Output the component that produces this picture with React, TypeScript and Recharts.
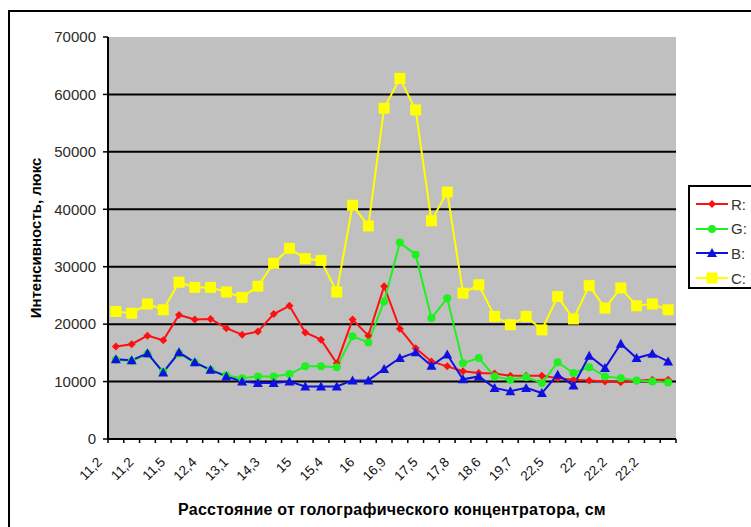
import React from "react";
import {
  CartesianGrid,
  Line,
  LineChart,
  XAxis,
  YAxis,
} from "recharts";

// distance labels, only every other one is shown on the axis
const distances = [
  "11,2", "11,2", "11,2", "11,3", "11,5", "11,8", "12,4", "12,7", "13,1", "13,6",
  "14,3", "14,6", "15", "15,2", "15,4", "15,7", "16", "16,4", "16,9", "17,2",
  "17,5", "17,6", "17,8", "18,2", "18,6", "19,1", "19,7", "21", "22,5", "22,2",
  "22", "22,1", "22,2", "22,2", "22,2", "22,2",
];

const rValues = [
  16100, 16500, 18000, 17200, 21600, 20800, 20900, 19300, 18150, 18700,
  21750, 23200, 18550, 17300, 13200, 20800, 18000, 26600, 19200, 15800,
  13500, 12650, 11800, 11500, 11400, 11000, 11000, 11000, 10600, 10300,
  10200, 10000, 9900, 10150, 10300, 10300,
];

const gValues = [
  13800, 13600, 14800, 11700, 14900, 13300, 12000, 11100, 10600, 10900,
  10900, 11300, 12650, 12650, 12500, 17900, 16800, 23950, 34200, 32100,
  21050, 24500, 13200, 14100, 10900, 10300, 10800, 9750, 13350, 11500,
  12500, 10900, 10600, 10200, 10000, 9850,
];

const bValues = [
  13900, 13700, 14950, 11600, 15100, 13350, 12050, 10900, 10000, 9750,
  9750, 10000, 9150, 9150, 9150, 10200, 10200, 12200, 14100, 15100,
  12750, 14700, 10400, 10900, 8900, 8300, 8900, 8000, 11200, 9300,
  14500, 12350, 16600, 14100, 14850, 13500,
];

const cValues = [
  22200, 21900, 23500, 22500, 27300, 26400, 26400, 25600, 24650, 26600,
  30600, 33200, 31400, 31100, 25600, 40700, 37100, 57600, 62800, 57300,
  38000, 43000, 25400, 26850, 21350, 19900, 21350, 19000, 24800, 20900,
  26700, 22800, 26300, 23200, 23500, 22500,
];

const yTicks = [0, 10000, 20000, 30000, 40000, 50000, 60000, 70000];
const gridValues = [10000, 20000, 30000, 40000, 50000, 60000];

type Shape = "diamond" | "circle" | "triangle" | "square";

const series: { key: string; name: string; color: string; shape: Shape }[] = [
  { key: "r", name: "R:", color: "#ff1010", shape: "diamond" },
  { key: "g", name: "G:", color: "#20f020", shape: "circle" },
  { key: "b", name: "B:", color: "#1010e0", shape: "triangle" },
  { key: "c", name: "C:", color: "#ffff00", shape: "square" },
];

const data = distances.map((d, i) => ({
  d,
  r: rValues[i],
  g: gValues[i],
  b: bValues[i],
  c: cValues[i],
}));

const FONT = "Arial, 'Liberation Sans', sans-serif";
const BAND = (676 - 108) / distances.length;

function Marker({ cx, cy, color, shape }: { cx: number; cy: number; color: string; shape: Shape }) {
  if (cx == null || cy == null) return null;
  if (shape === "diamond") {
    const s = 4;
    return (
      <polygon
        points={`${cx},${cy - s} ${cx + s},${cy} ${cx},${cy + s} ${cx - s},${cy}`}
        fill={color}
      />
    );
  }
  if (shape === "circle") return <circle cx={cx} cy={cy} r={4} fill={color} />;
  if (shape === "triangle") {
    return (
      <polygon
        points={`${cx},${cy - 5} ${cx + 5},${cy + 4} ${cx - 5},${cy + 4}`}
        fill={color}
      />
    );
  }
  return <rect x={cx - 5.5} y={cy - 5.5} width={11} height={11} fill={color} />;
}

function XTick(props: any) {
  const { x, y, payload, index } = props;
  return (
    <g>
      <line x1={x - BAND / 2} y1={y} x2={x - BAND / 2} y2={y + 4} stroke="#000" strokeWidth={1.5} />
      {index === distances.length - 1 && (
        <line x1={x + BAND / 2} y1={y} x2={x + BAND / 2} y2={y + 4} stroke="#000" strokeWidth={1.5} />
      )}
      {index % 2 === 0 && (
        <text
          x={x - 13}
          y={y + 24}
          transform={`rotate(-45 ${x - 13} ${y + 24})`}
          textAnchor="end"
          fontSize={13.5}
          fontFamily={FONT}
          fill="#111"
        >
          {payload.value}
        </text>
      )}
    </g>
  );
}

export default function App() {
  return (
    <div style={{ position: "absolute", left: 0, top: 0, width: 751, height: 527, overflow: "hidden", background: "#fff" }}>
      <div
        style={{
          position: "absolute",
          left: 8,
          top: 10,
          width: 900,
          height: 700,
          border: "2px solid #000",
        }}
      />
      <div style={{ position: "absolute", left: 0, top: 0 }}>
        <LineChart
          width={751}
          height={527}
          data={data}
          margin={{ top: 37, right: 75, left: 48, bottom: 48 }}
        >
          <CartesianGrid
            vertical={false}
            horizontalValues={gridValues}
            stroke="#000"
            strokeWidth={2}
            fill="#c0c0c0"
            fillOpacity={1}
          />
          <XAxis
            dataKey="d"
            interval={0}
            tickLine={false}
            tickSize={0}
            tickMargin={0}
            height={40}
            padding={{ left: BAND / 2, right: BAND / 2 }}
            axisLine={{ stroke: "#000", strokeWidth: 2 }}
            tick={<XTick />}
            label={{
              value: "Расстояние от голографического концентратора, см",
              position: "insideBottom",
              offset: -36,
              style: { fontFamily: FONT, fontSize: 16, fontWeight: "bold", letterSpacing: 0.25, fill: "#000" },
            }}
          />
          <YAxis
            width={60}
            domain={[0, 70000]}
            ticks={yTicks}
            interval={0}
            tickSize={5}
            tickMargin={7}
            axisLine={{ stroke: "#000", strokeWidth: 2 }}
            tickLine={{ stroke: "#000", strokeWidth: 1.5 }}
            tick={{ fontFamily: FONT, fontSize: 15, fill: "#2a2a2a" }}
            label={{
              value: "Интенсивность, люкс",
              angle: -90,
              position: "insideLeft",
              offset: -12,
              dy: 0,
              style: { textAnchor: "middle", fontFamily: FONT, fontSize: 15, fontWeight: "bold", fill: "#000" },
            }}
          />
          {series.map((s) => (
            <Line
              key={s.key}
              dataKey={s.key}
              name={s.name}
              type="linear"
              stroke={s.color}
              strokeWidth={2}
              isAnimationActive={false}
              dot={(p: any) => (
                <Marker key={`${s.key}-${p.index}`} cx={p.cx} cy={p.cy} color={s.color} shape={s.shape} />
              )}
              activeDot={false}
            />
          ))}
        </LineChart>
      </div>
      <div
        style={{
          position: "absolute",
          left: 688,
          top: 185,
          width: 70,
          height: 100,
          border: "2px solid #000",
          background: "#fff",
        }}
      >
        {series.map((s, i) => (
          <div
            key={s.key}
            style={{ position: "absolute", left: 4, top: 9 + i * 24.7, height: 16, display: "flex", alignItems: "center" }}
          >
            <svg width={36} height={16}>
              <line x1={2} y1={8} x2={34} y2={8} stroke={s.color} strokeWidth={2} />
              <Marker cx={18} cy={8} color={s.color} shape={s.shape} />
            </svg>
            <span style={{ fontFamily: FONT, fontSize: 15, color: "#333", marginLeft: 1 }}>{s.name}</span>
          </div>
        ))}
      </div>
    </div>
  );
}
